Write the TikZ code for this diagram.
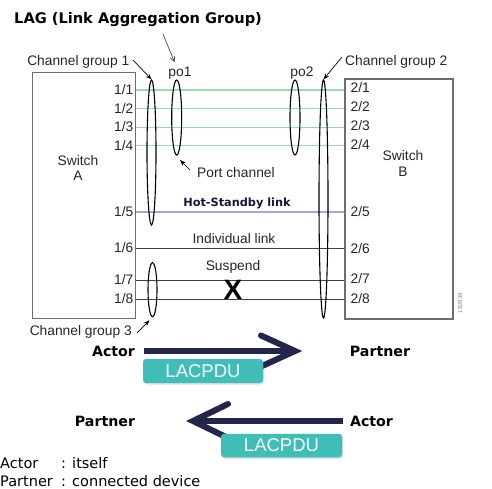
\documentclass[tikz,border=0pt]{standalone}
\usepackage{fontspec}
\setmainfont{Liberation Sans}
\newfontfamily\dvs{DejaVu Sans}
\usetikzlibrary{arrows.meta,shadows,shapes.geometric}
\definecolor{navy}{HTML}{23254A}
\definecolor{teal2}{HTML}{3FBDB7}
\definecolor{mint}{HTML}{9CDAB0}
\definecolor{lav}{HTML}{A4A4E2}
\definecolor{boxgray}{HTML}{6E6E6E}
\definecolor{linegray}{HTML}{404040}
\definecolor{hsb}{HTML}{141640}
\begin{document}
\begin{tikzpicture}[x=1pt,y=-1pt,
  lbl/.style={font=\fontsize{13.8}{15}\selectfont, inner sep=0pt, text=black!85},
  sw/.style={draw=boxgray, line width=1.3pt},
  grp/.style={draw=black, line width=1.1pt, ellipse, inner sep=0pt},
  ptr/.style={-{Stealth[length=6pt,width=4.5pt]}, line width=0.7pt, black},
  bigarrow/.style={line width=6pt, navy},
  pdu/.style={fill=teal2, rounded corners=3pt, text=white, font=\fontsize{18.5}{20}\selectfont,
    inner sep=0pt, drop shadow={shadow xshift=1pt, shadow yshift=-1.5pt, opacity=0.25}},
  bold/.style={font=\dvs\bfseries\fontsize{14.2}{16}\selectfont, inner sep=0pt, text=black},
  legend/.style={font=\dvs\fontsize{14.5}{16}\selectfont, inner sep=0pt, anchor=west}
]
\useasboundingbox (0,0) rectangle (492,489);

% title
\node[font=\dvs\bfseries\fontsize{14.6}{16}\selectfont, inner sep=0pt, anchor=west] (title) at (14,20) {LAG (Link Aggregation Group)};

% switches
\node[sw, minimum width=103.3pt, minimum height=246.3pt, inner sep=0pt, anchor=north west] (swA) at (31.7,71.7) {};
\node[sw, minimum width=108pt, minimum height=240pt, inner sep=0pt, anchor=north west] (swB) at (344.3,78.3) {};
\node[lbl, align=center] (swAt) at (78,168) {Switch\\[1pt]A};
\node[lbl, align=center] (swBt) at (403,163) {Switch\\[1pt]B};

% port coordinates and links
\foreach \i/\y in {1/90,2/108.3,3/127.3,4/145.7,5/211.7,6/248.3,7/280,8/299.3}{
  \coordinate (a\i) at (swA.east |- 0,\y);
  \coordinate (b\i) at (swB.west |- 0,\y);
}
\foreach \i in {1,2,3,4}{ \draw[mint, line width=1.5pt] (a\i) -- (b\i); }
\draw[lav, line width=1.6pt] (a5) -- (b5);
\foreach \i in {6,7,8}{ \draw[linegray, line width=0.9pt] (a\i) -- (b\i); }

% port labels
\foreach \i/\y in {1/90,2/108.3,3/126.7,4/146,5/212,6/247.5,7/279.5,8/299}{
  \node[lbl, anchor=east] (la\i) at (133.5,\y) {1/\i};
}
\foreach \i/\y in {1/88,2/106.7,3/125.7,4/144.5,5/211.7,6/248.5,7/278.5,8/299}{
  \node[lbl, anchor=west] (lb\i) at (350.5,\y) {2/\i};
}

% group ellipses
\node[grp, minimum width=9pt, minimum height=145pt] (cg1) at (151.5,152.5) {};
\node[grp, minimum width=10pt, minimum height=75pt] (po1) at (176.7,117.5) {};
\node[grp, minimum width=10pt, minimum height=75pt] (po2) at (295,117.5) {};
\node[grp, minimum width=9pt, minimum height=238pt] (cg2) at (323.5,199) {};
\node[grp, minimum width=9pt, minimum height=54pt] (cg3) at (152.5,289.7) {};

% group labels
\node[lbl, anchor=east] (cg1l) at (129.5,62) {Channel group 1};
\node[lbl] (po1l) at (180,73) {po1};
\node[lbl] (po2l) at (302,73) {po2};
\node[lbl, anchor=west] (cg2l) at (345,62) {Channel group 2};
\node[lbl, anchor=east] (cg3l) at (132,332) {Channel group 3};
\node[lbl, anchor=west] (pcl) at (197,173) {Port channel};

\coordinate (cg1t) at (133,60);
\coordinate (cg2t) at (342,57);
\coordinate (cg3t) at (137,333);
\coordinate (pct) at (190,170);
\coordinate (pch) at (180,160);
\draw[ptr] (cg1t) -- (cg1.north);
\draw[ptr] (cg2t) -- (cg2.north);
\draw[ptr] (cg3t) -- ([xshift=-3pt,yshift=-3pt]cg3.south);
\draw[ptr] (pct) -- (pch);

% LAG pointer
\coordinate (lagt) at (163,34);
\coordinate (lagh) at (174.5,62);
\draw[-{Straight Barb[length=5pt,width=5pt]}, navy, line width=0.55pt] (lagt) -- (lagh);

% link labels
\node[font=\dvs\bfseries\fontsize{11.3}{13}\selectfont, text=hsb, inner sep=0pt] (hsl) at (237,203) {Hot-Standby link};
\node[lbl] (ill) at (234,239) {Individual link};
\node[lbl] (susl) at (233,267) {Suspend};
\node[font=\bfseries\fontsize{28}{30}\selectfont, inner sep=0pt] (xmark) at (233,289.5) {X};

% figure id
\node[rotate=90, font=\fontsize{6}{7}\selectfont, text=black!45, inner sep=0pt] (figid) at (460,303) {182839};

% LACPDU row 1
\node[bold] (act1) at (113.5,351) {Actor};
\node[bold] (par1) at (380,351) {Partner};
\coordinate (s1) at (144,351);
\coordinate (e1) at (291,351);
\coordinate (tip1) at (295,351);
\coordinate (u1) at (261,335.5);
\coordinate (d1) at (261,366.5);
\draw[bigarrow] (s1) -- (e1);
\draw[bigarrow, line cap=round, line join=miter] (u1) -- (tip1) -- (d1);
\node[pdu, minimum width=120pt, minimum height=24pt] (pdu1) at (203,371) {LACPDU};

% LACPDU row 2
\node[bold] (par2) at (105,421) {Partner};
\node[bold] (act2) at (371.5,421) {Actor};
\coordinate (s2) at (343,421);
\coordinate (e2) at (197,421);
\coordinate (tip2) at (193,421);
\coordinate (u2) at (228,404);
\coordinate (d2) at (228,438);
\draw[bigarrow] (s2) -- (e2);
\draw[bigarrow, line cap=round, line join=miter] (u2) -- (tip2) -- (d2);
\node[pdu, minimum width=121pt, minimum height=23.5pt] (pdu2) at (281.5,445.5) {LACPDU};

% legend
\node[legend] (lg1) at (0,463) {Actor};
\node[legend] (lg1b) at (61,463) {: itself};
\node[legend] (lg2) at (0,481) {Partner};
\node[legend] (lg2b) at (61,481) {: connected device};
\end{tikzpicture}
\end{document}
